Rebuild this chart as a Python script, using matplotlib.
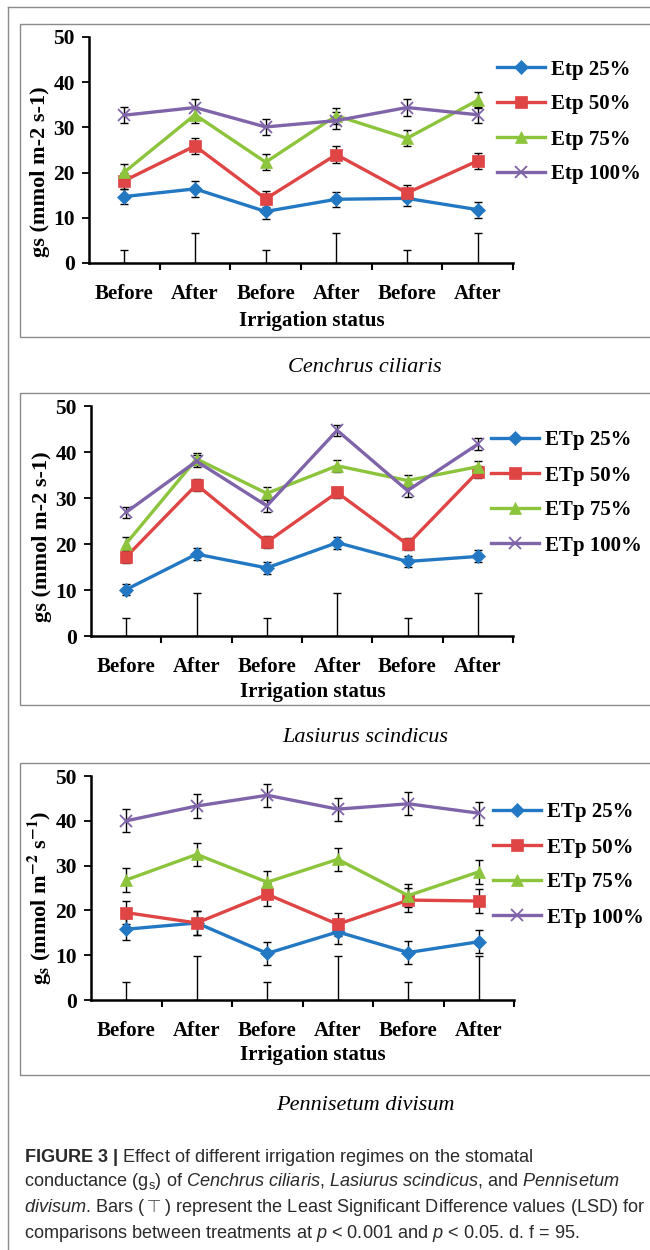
import matplotlib
matplotlib.use("Agg")
import matplotlib.pyplot as plt
from matplotlib.lines import Line2D
from matplotlib.patches import Rectangle

plt.rcParams["font.family"] = ["Liberation Serif", "DejaVu Serif"]
plt.rcParams["mathtext.fontset"] = "custom"
plt.rcParams["mathtext.rm"] = "Liberation Sans"
plt.rcParams["mathtext.it"] = "Liberation Sans:italic"
plt.rcParams["mathtext.bf"] = "Liberation Sans:bold"

W, H = 650, 1250

categories = ["Before", "After", "Before", "After", "Before", "After"]
colors = ["#2378C3", "#E04545", "#8CC43C", "#8064AA"]
markers = ["D", "s", "^", "x"]

# Cenchrus ciliaris
cc_labels = ["Etp 25%", "Etp 50%", "Etp 75%", "Etp 100%"]
cc_25 = [14.7, 16.4, 11.4, 14.1, 14.3, 11.8]
cc_50 = [18.2, 25.9, 14.2, 24.0, 15.5, 22.6]
cc_75 = [20.1, 32.8, 22.3, 32.6, 27.6, 36.0]
cc_100 = [32.7, 34.4, 30.1, 31.5, 34.4, 32.8]
cc_err25 = [1.7, 1.8, 1.7, 1.7, 1.7, 1.8]
cc_err50 = [1.8, 1.8, 1.7, 1.8, 1.7, 1.8]
cc_err75 = [1.8, 1.8, 1.8, 1.8, 1.8, 1.8]
cc_err100 = [1.8, 1.8, 1.8, 1.8, 1.8, 1.8]
cc_lsd = [2.8, 6.6, 2.8, 6.6, 2.8, 6.6]

# Lasiurus scindicus
ls_labels = ["ETp 25%", "ETp 50%", "ETp 75%", "ETp 100%"]
ls_25 = [10.1, 17.8, 14.8, 20.3, 16.2, 17.3]
ls_50 = [17.2, 32.9, 20.4, 31.2, 19.9, 35.7]
ls_75 = [20.1, 38.5, 31.0, 37.0, 33.8, 36.8]
ls_100 = [26.9, 38.0, 28.3, 44.7, 31.6, 41.7]
ls_err25 = [1.2, 1.3, 1.3, 1.3, 1.3, 1.3]
ls_err50 = [1.3, 1.3, 1.3, 1.3, 1.3, 1.3]
ls_err75 = [1.4, 1.3, 1.3, 1.3, 1.3, 1.3]
ls_err100 = [1.2, 1.3, 1.3, 1.2, 1.3, 1.3]
ls_lsd = [3.9, 9.4, 3.9, 9.4, 3.9, 9.4]

# Pennisetum divisum
pd_labels = ["ETp 25%", "ETp 50%", "ETp 75%", "ETp 100%"]
pd_25 = [15.8, 17.2, 10.4, 15.2, 10.6, 13.0]
pd_50 = [19.5, 17.2, 23.6, 16.9, 22.3, 22.1]
pd_75 = [26.8, 32.5, 26.3, 31.4, 23.3, 28.6]
pd_100 = [40.0, 43.3, 45.7, 42.6, 43.8, 41.7]
pd_err25 = [2.5, 2.6, 2.5, 2.6, 2.5, 2.6]
pd_err50 = [2.6, 2.6, 2.6, 2.6, 2.6, 2.6]
pd_err75 = [2.6, 2.6, 2.6, 2.6, 2.6, 2.6]
pd_err100 = [2.6, 2.6, 2.6, 2.6, 2.6, 2.6]
pd_lsd = [4.0, 9.9, 4.0, 9.9, 4.0, 9.9]


def fx(x):
    return x / W


def fy(y):
    return 1 - y / H


def draw_panel(fig, axis_px, box_px, series, errs, lsd, labels, ylabel,
               ylabel_pos, xlabel_dy, caption, caption_y, legend_px,
               ylabel_kw=None):
    x0, x1, ytop, ybot = axis_px
    wpx, hpx = x1 - x0, ybot - ytop

    bx0, by0, by1 = box_px
    fig.patches.append(Rectangle((fx(bx0), fy(by1)), fx(W + 20 - bx0), (by1 - by0) / H,
                                 transform=fig.transFigure, fill=False,
                                 edgecolor="#8a8a8a", linewidth=1.0))

    ax = fig.add_axes([fx(x0), fy(ybot), wpx / W, hpx / H])
    xs = list(range(len(categories)))

    # LSD bars drawn from the axis up
    ax.errorbar(xs, [0] * len(xs), yerr=[[0] * len(xs), lsd], fmt="none",
                ecolor="black", elinewidth=1.0, capsize=3.2, capthick=1.0,
                zorder=2)

    handles = []
    for vals, err, col, mk in zip(series, errs, colors, markers):
        ax.errorbar(xs, vals, yerr=err, fmt="none", ecolor="black",
                    elinewidth=1.0, capsize=3.2, capthick=1.0, zorder=3)
        ms = 9 if mk in ("s", "x") else 8.5
        if mk == "D":
            ms = 7.5
        mew = 1.3 if mk == "x" else 0.5
        ax.plot(xs, vals, color=col, linewidth=2.4, marker=mk, markersize=ms,
                markeredgewidth=mew, markeredgecolor=col, zorder=4)
        handles.append(Line2D([], [], color=col, linewidth=2.4, marker=mk,
                              markersize=ms, markeredgecolor=col,
                              markeredgewidth=mew))

    ax.set_xlim(-0.5, len(xs) - 0.5)
    ax.set_ylim(0, 50)
    ax.set_yticks([0, 10, 20, 30, 40, 50])
    ax.set_xticks([i + 0.5 for i in xs])
    ax.set_xticklabels([])
    ax.set_xticks(xs, minor=True)
    ax.set_xticklabels(categories, minor=True)
    ax.tick_params(axis="x", which="major", direction="out", length=5, width=1.5)
    ax.tick_params(axis="x", which="minor", length=0, pad=15, labelsize=15)
    ax.tick_params(axis="y", direction="out", length=5, width=1.3, pad=5,
                   labelsize=15.5)
    for lab in ax.get_xticklabels(minor=True) + ax.get_yticklabels():
        lab.set_fontweight("bold")
    for side in ("top", "right"):
        ax.spines[side].set_visible(False)
    for side in ("left", "bottom"):
        ax.spines[side].set_linewidth(1.8)

    ax.set_xlabel("Irrigation status", fontsize=15, fontweight="bold",
                  va="center")
    ax.xaxis.set_label_coords(0.525, -xlabel_dy / hpx)
    lx_px, ly_px = ylabel_pos
    ax.set_ylabel(ylabel, fontsize=16, fontweight="bold", va="center",
                  **(ylabel_kw or {}))
    ax.yaxis.set_label_coords((lx_px - x0) / wpx, (ybot - ly_px) / hpx)

    gx, gy = legend_px
    fig.legend(handles, labels, loc="center left",
               bbox_to_anchor=(fx(gx), fy(gy)), bbox_transform=fig.transFigure,
               frameon=False, prop={"weight": "bold", "size": 15},
               handlelength=2.3, handletextpad=0.3, labelspacing=0.72,
               borderpad=0, borderaxespad=0)

    fig.text(fx(365), fy(caption_y), caption, fontsize=16, fontstyle="italic",
             ha="center", va="center")
    return ax


fig = plt.figure(figsize=(W / 100, H / 100), dpi=100)

# outer frame (left and top edges visible)
fig.add_artist(Line2D([fx(8), fx(8)], [fy(7), 0], color="#8a8a8a", linewidth=1.0))
fig.add_artist(Line2D([fx(8), 1], [fy(7), fy(7)], color="#8a8a8a", linewidth=1.0))

draw_panel(fig, (89, 513, 37, 263), (20, 24, 337),
           [cc_25, cc_50, cc_75, cc_100],
           [cc_err25, cc_err50, cc_err75, cc_err100], cc_lsd, cc_labels,
           "gs (mmol m-2 s-1)", (40, 172), 58, "Cenchrus ciliaris", 367,
           (497, 122))

draw_panel(fig, (91, 513, 406, 636), (20, 393, 705),
           [ls_25, ls_50, ls_75, ls_100],
           [ls_err25, ls_err50, ls_err75, ls_err100], ls_lsd, ls_labels,
           "gs (mmol m-2 s-1)", (42, 537), 56, "Lasiurus scindicus", 737,
           (491, 493))

draw_panel(fig, (91, 514, 776, 1000), (20, 763, 1075),
           [pd_25, pd_50, pd_75, pd_100],
           [pd_err25, pd_err50, pd_err75, pd_err100], pd_lsd, pd_labels,
           r"g$_{\mathbf{s}}$ (mmol m$^{\mathbf{-2}}$ s$^{\mathbf{-1}}$)",
           (40, 898), 55, "Pennisetum divisum", 1105, (493, 865),
           ylabel_kw={"math_fontfamily": "stix"})

caption_lines = [
    r"$\mathbf{FIGURE\ 3\ |}$ Effect of different irrigation regimes on the stomatal",
    r"conductance (g$_\mathrm{s}$) of $\mathit{Cenchrus\ ciliaris}$, "
    r"$\mathit{Lasiurus\ scindicus}$, and $\mathit{Pennisetum}$",
    r"$\mathit{divisum}$. Bars ($\top$) represent the Least Significant Difference values (LSD) for",
    r"comparisons between treatments at $\mathit{p}$ < 0.001 and $\mathit{p}$ < 0.05. d. f = 95.",
]
caption_ys = [1157, 1182, 1207, 1233]
for line, y in zip(caption_lines, caption_ys):
    fig.text(fx(24), fy(y), line, family="Liberation Sans", fontsize=13.1,
             color="#2a2a2a", ha="left", va="center")

fig.savefig("out.png", dpi=100)
